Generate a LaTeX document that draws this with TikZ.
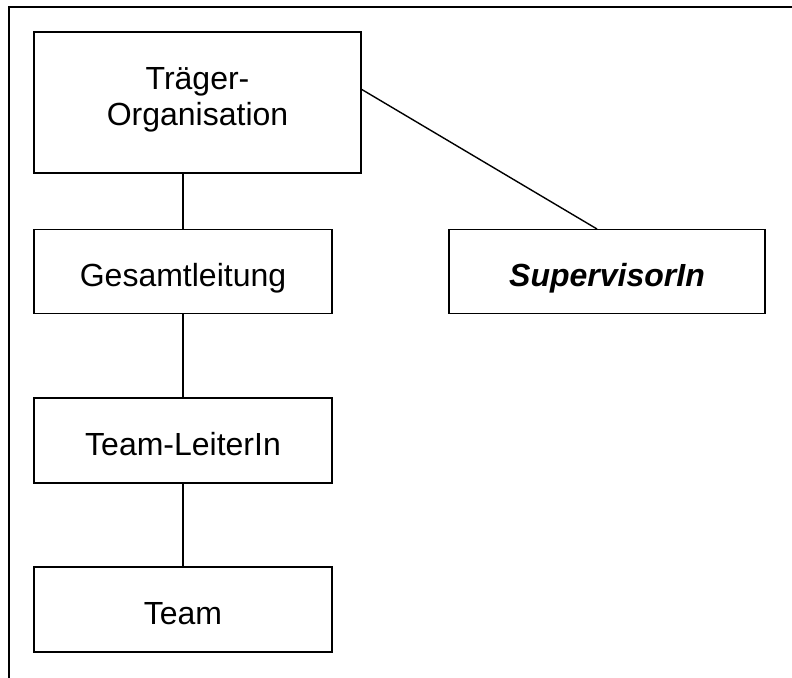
\documentclass[tikz,border=0pt]{standalone}
\usepackage{fontspec}
\setmainfont{Liberation Sans}
\begin{document}
\begin{tikzpicture}[x=1pt,y=-1pt,
  box/.style={draw,line width=1.6pt,inner sep=0pt,font=\fontsize{32}{36}\selectfont,align=center,text height=30pt,text depth=0pt},
  conn/.style={line width=1.4pt}]
\useasboundingbox (0,0) rectangle (792,677);
\coordinate (ftl) at (9,7);
\coordinate (ftr) at (800,7);
\coordinate (fbl) at (9,690);
\draw[line width=1.8pt] (ftr) -- (ftl) -- (fbl);
\node[draw,line width=1.6pt,inner sep=0pt,minimum width=327pt,minimum height=141pt,
  label={[font=\fontsize{32}{36}\selectfont,align=center,yshift=2.5pt]center:Träger-\\Organisation}] (traeger) at (197.5,102.5) {};
\node[box,minimum width=298pt,minimum height=84pt] (gesamt) at (183,271.5) {Gesamtleitung};
\node[box,minimum width=298pt,minimum height=85pt] (leiter) at (183,440.5) {Team-LeiterIn};
\node[box,minimum width=298pt,minimum height=85pt] (team) at (183,609.5) {Team};
\node[box,minimum width=316pt,minimum height=84pt] (super) at (607,271.5) {\bfseries\itshape SupervisorIn};
\draw[conn] (traeger.south -| gesamt.north) -- (gesamt.north);
\draw[conn] (gesamt.south) -- (leiter.north);
\draw[conn] (leiter.south) -- (team.north);
\coordinate (ta) at (361,89);
\coordinate (sa) at (597,229);
\draw[conn] (ta) -- (sa);
\end{tikzpicture}
\end{document}
